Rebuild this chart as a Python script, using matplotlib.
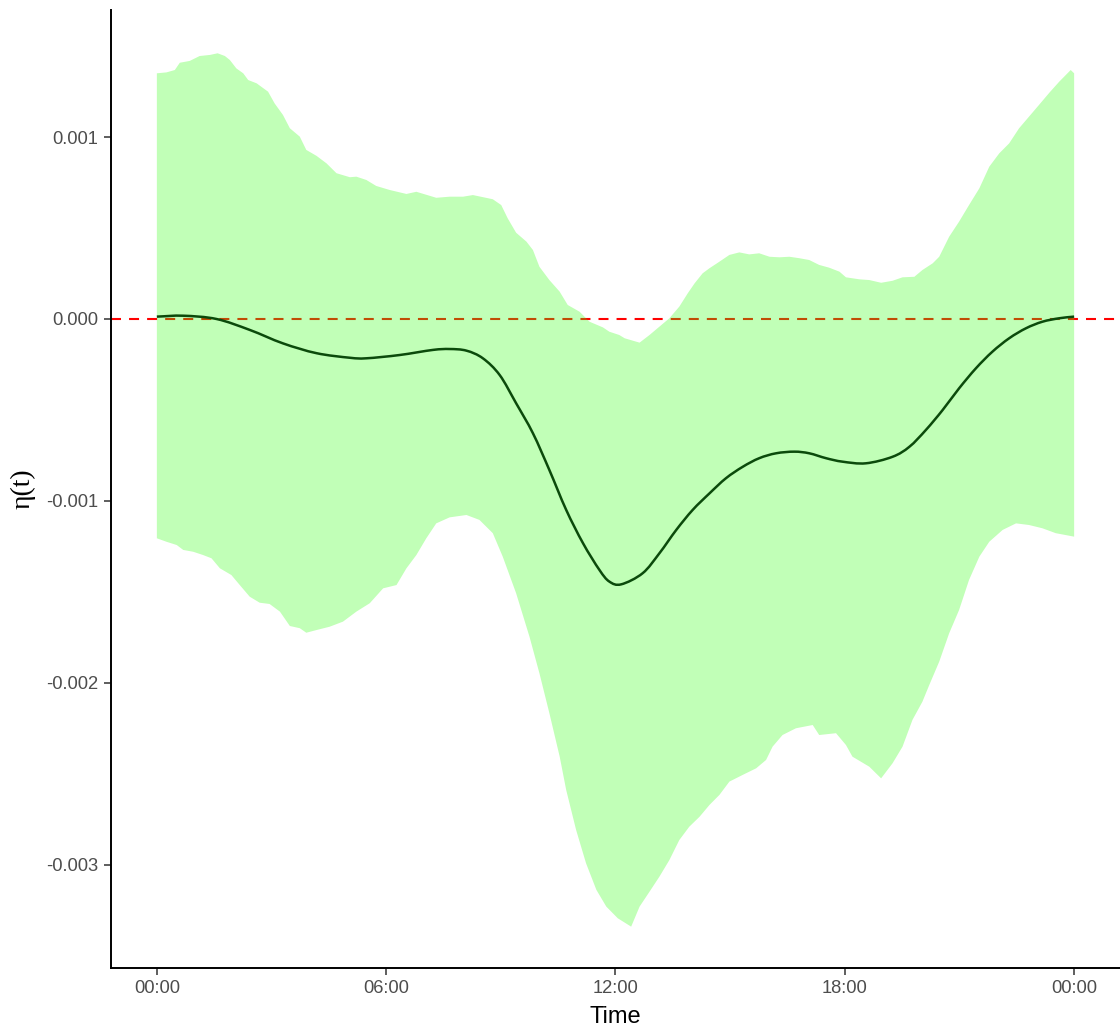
import matplotlib
matplotlib.use("Agg")
import matplotlib.pyplot as plt
from matplotlib.path import Path
from matplotlib.patches import PathPatch
import numpy as np

# Hours since midnight and the upper bound of the interval for eta(t)
upper_hours = [0.00, 0.25, 0.47, 0.60, 0.86, 1.12, 1.39, 1.59, 1.78, 1.91, 2.08, 2.26,
               2.39, 2.61, 2.91, 3.08, 3.30, 3.48, 3.74, 3.91, 4.18, 4.44, 4.70, 5.05,
               5.22, 5.48, 5.74, 6.09, 6.53, 6.79, 7.31, 7.66, 8.01, 8.27, 8.79, 9.01,
               9.18, 9.40, 9.67, 9.84, 10.01, 10.27, 10.54, 10.75, 11.06, 11.32, 11.67,
               11.84, 12.10, 12.24, 12.63, 12.89, 13.15, 13.41, 13.67, 13.89, 14.07,
               14.28, 14.46, 14.72, 14.98, 15.24, 15.50, 15.76, 16.03, 16.29, 16.55,
               16.81, 17.07, 17.33, 17.59, 17.86, 18.03, 18.38, 18.64, 18.95, 19.25,
               19.51, 19.82, 20.03, 20.30, 20.47, 20.73, 20.99, 21.25, 21.52, 21.78,
               22.04, 22.30, 22.56, 22.82, 23.08, 23.35, 23.61, 23.91, 24.00]
upper_vals = [1.350, 1.355, 1.368, 1.408, 1.418, 1.445, 1.451, 1.460, 1.445, 1.423, 1.377,
              1.350, 1.313, 1.295, 1.249, 1.185, 1.121, 1.048, 1.002, 0.929, 0.896, 0.855,
              0.801, 0.779, 0.782, 0.764, 0.731, 0.709, 0.687, 0.699, 0.666, 0.672, 0.672,
              0.681, 0.658, 0.626, 0.553, 0.474, 0.425, 0.379, 0.287, 0.214, 0.150, 0.077,
              0.040, -0.015, -0.046, -0.070, -0.088, -0.106, -0.130, -0.088, -0.042, 0.004,
              0.068, 0.141, 0.196, 0.251, 0.279, 0.315, 0.352, 0.366, 0.355, 0.361, 0.342,
              0.339, 0.342, 0.334, 0.324, 0.297, 0.282, 0.260, 0.229, 0.218, 0.214, 0.199,
              0.210, 0.229, 0.232, 0.269, 0.306, 0.342, 0.452, 0.535, 0.626, 0.718, 0.837,
              0.910, 0.965, 1.048, 1.112, 1.176, 1.243, 1.304, 1.368, 1.350]

# Lower bound of the interval
lower_hours = [0.00, 0.25, 0.52, 0.69, 0.95, 1.21, 1.43, 1.65, 1.95, 2.17, 2.43, 2.69,
               2.95, 3.22, 3.48, 3.74, 3.91, 4.18, 4.52, 4.87, 5.22, 5.57, 5.92, 6.27,
               6.53, 6.79, 7.05, 7.31, 7.66, 8.10, 8.44, 8.79, 9.05, 9.40, 9.75, 10.01,
               10.27, 10.54, 10.71, 10.97, 11.23, 11.50, 11.76, 12.06, 12.41, 12.63,
               12.89, 13.15, 13.41, 13.67, 13.93, 14.20, 14.46, 14.72, 14.98, 15.33,
               15.68, 15.94, 16.11, 16.37, 16.72, 17.16, 17.33, 17.77, 18.03, 18.20,
               18.64, 18.95, 19.25, 19.51, 19.77, 20.03, 20.21, 20.47, 20.73, 20.99,
               21.25, 21.52, 21.78, 22.13, 22.48, 22.82, 23.17, 23.52, 24.00]
lower_vals = [-1.205, -1.224, -1.242, -1.269, -1.279, -1.297, -1.315, -1.370, -1.407,
              -1.462, -1.526, -1.559, -1.566, -1.608, -1.687, -1.699, -1.724, -1.709,
              -1.691, -1.663, -1.608, -1.562, -1.480, -1.462, -1.370, -1.297, -1.205,
              -1.123, -1.090, -1.077, -1.104, -1.177, -1.306, -1.507, -1.746, -1.947,
              -2.166, -2.405, -2.588, -2.808, -2.991, -3.137, -3.229, -3.293, -3.339,
              -3.229, -3.147, -3.064, -2.973, -2.863, -2.790, -2.735, -2.670, -2.615,
              -2.542, -2.505, -2.469, -2.423, -2.350, -2.286, -2.249, -2.231, -2.286,
              -2.276, -2.341, -2.405, -2.460, -2.524, -2.441, -2.350, -2.203, -2.103,
              -2.011, -1.883, -1.727, -1.599, -1.434, -1.306, -1.224, -1.159, -1.123,
              -1.132, -1.150, -1.177, -1.196]

# Estimated eta(t)
mean_hours = [0.00, 0.69, 1.56, 2.43, 3.30, 4.18, 5.05, 5.48, 6.35, 7.22, 7.66, 8.10,
              8.53, 8.97, 9.40, 9.84, 10.27, 10.71, 11.15, 11.58, 11.84, 12.15, 12.71,
              13.15, 13.59, 14.02, 14.46, 14.89, 15.33, 15.76, 16.20, 16.68, 17.07,
              17.51, 17.94, 18.55, 19.25, 19.69, 20.12, 20.56, 20.99, 21.43, 21.86,
              22.30, 22.74, 23.17, 23.61, 24.00]
mean_vals = [0.013, 0.018, 0.000, -0.060, -0.134, -0.188, -0.213, -0.216, -0.198, -0.170,
             -0.165, -0.174, -0.216, -0.308, -0.463, -0.628, -0.830, -1.049, -1.232,
             -1.379, -1.443, -1.458, -1.397, -1.287, -1.159, -1.049, -0.958, -0.875,
             -0.812, -0.765, -0.738, -0.729, -0.738, -0.765, -0.784, -0.793, -0.757,
             -0.702, -0.610, -0.500, -0.381, -0.271, -0.180, -0.106, -0.051, -0.015,
             0.004, 0.013]

x_ticks = [0, 6, 12, 18, 24]
x_labels = ["00:00", "06:00", "12:00", "18:00", "00:00"]
y_ticks = [-0.003, -0.002, -0.001, 0.000, 0.001]
y_labels = ["-0.003", "-0.002", "-0.001", "0.000", "0.001"]

plt.rcParams["font.family"] = ["Liberation Sans", "DejaVu Sans"]
plt.rcParams["lines.scale_dashes"] = False


def smooth_path(xs, ys):
    """Catmull-Rom curve through the points, expressed as cubic Bezier segments."""
    p = np.column_stack([xs, ys])
    ext = np.vstack([p[0] - (p[1] - p[0]), p, p[-1] + (p[-1] - p[-2])])
    verts = [p[0]]
    codes = [Path.MOVETO]
    for i in range(1, len(ext) - 2):
        p0, p1, p2, p3 = ext[i - 1], ext[i], ext[i + 1], ext[i + 2]
        verts += [p1 + (p2 - p0) / 6.0, p2 - (p3 - p1) / 6.0, p2]
        codes += [Path.CURVE4] * 3
    return Path(verts, codes)


fig = plt.figure(figsize=(11.2, 10.28), dpi=100)
ax = fig.add_axes([0.0991, 0.0584, 0.9009, 0.9319])

scale = 1e-3
up = np.array(upper_vals) * scale
lo = np.array(lower_vals) * scale
mu = np.array(mean_vals) * scale

# reference line at zero, underneath the translucent band
ax.axhline(0, color="red", lw=1.5, dashes=(7.2, 5.8), zorder=1)

band_x = np.concatenate([upper_hours, lower_hours[::-1]])
band_y = np.concatenate([up, lo[::-1]])
ax.fill(band_x, band_y, color=(51 / 255, 1.0, 17 / 255), alpha=0.3, lw=0, zorder=2)

ax.add_patch(PathPatch(smooth_path(mean_hours, mu), facecolor="none",
                       edgecolor="#0b4a0b", lw=1.8, zorder=3))

ax.set_xlim(-1.2, 25.2)
ax.set_ylim(-3.566e-3, 1.698e-3)

ax.set_xticks(x_ticks)
ax.set_xticklabels(x_labels)
ax.set_yticks(y_ticks)
ax.set_yticklabels(y_labels)

for side in ("top", "right"):
    ax.spines[side].set_visible(False)
for side in ("left", "bottom"):
    ax.spines[side].set_color("black")
    ax.spines[side].set_linewidth(1.4)

ax.tick_params(axis="both", colors="#333333", length=5, width=1.1,
               labelcolor="#4d4d4d", labelsize=13.2, pad=4)

ax.set_xlabel("Time", fontsize=17, color="black", labelpad=6)
ax.set_ylabel("η(t)", fontsize=20, color="black", labelpad=8,
              family=["Liberation Serif", "DejaVu Serif"])

fig.savefig("out.png", dpi=100)
